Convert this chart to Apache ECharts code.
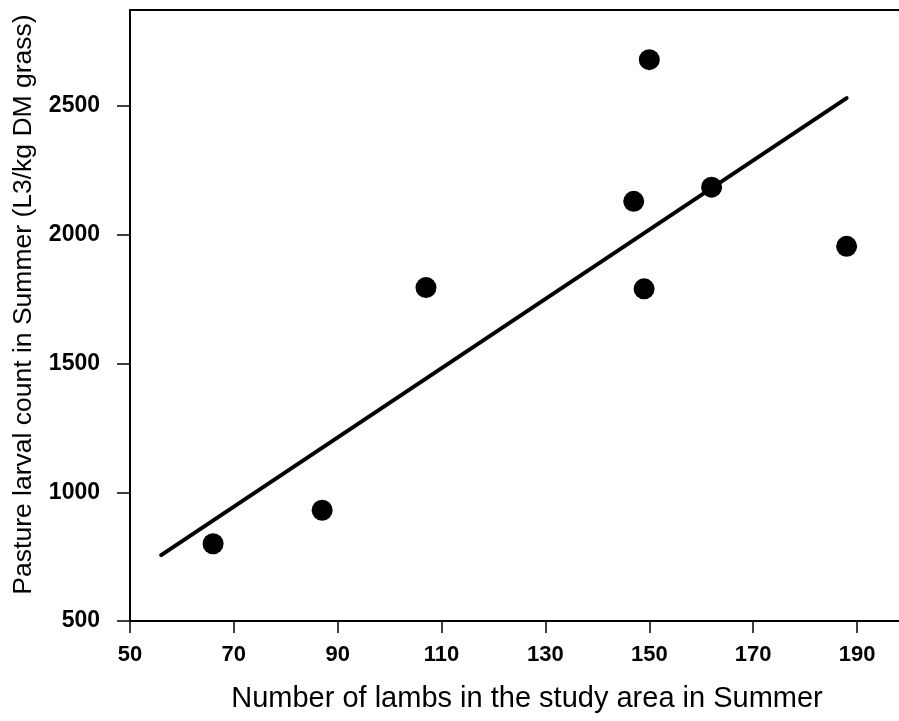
<!DOCTYPE html>
<html>
<head>
<meta charset="utf-8">
<title>Lambs vs pasture larval count</title>
<script src="https://cdn.jsdelivr.net/npm/echarts@6/dist/echarts.min.js"></script>
<style>
  html, body { margin: 0; padding: 0; background: #fff; }
  #chart { width: 899px; height: 721px; }
</style>
</head>
<body>
<div id="chart"></div>
<script>
// Observed farms: number of lambs vs larval count on pasture
const lambs = [66, 87, 107, 147, 149, 150, 162, 188];
const larvae = [800, 930, 1795, 2130, 1790, 2680, 2185, 1955];

// Fitted regression line end points
const fitX = [56, 188];
const fitY = [756, 2531];

// Axis tick values
const xTicks = [50, 70, 90, 110, 130, 150, 170, 190];
const yTicks = [500, 1000, 1500, 2000, 2500];

const FONT = '"Liberation Sans", Arial, sans-serif';
const plain = v => String(v);

const chart = echarts.init(document.getElementById('chart'), null, { renderer: 'canvas' });

chart.setOption({
  animation: false,
  backgroundColor: '#ffffff',
  // the plot frame runs past the right edge of the canvas
  grid: { left: 130, top: 10, right: -25, bottom: 100, show: false, outerBoundsMode: 'none', containLabel: false },
  xAxis: [
    {
      type: 'value',
      position: 'bottom',
      min: 50,
      max: 202.9,
      interval: 20,
      name: 'Number of lambs in the study area in Summer',
      nameLocation: 'middle',
      nameGap: 63,
      nameTextStyle: { fontFamily: FONT, fontSize: 29, color: '#000' },
      axisLine: { show: true, onZero: false, lineStyle: { color: '#000', width: 2 } },
      axisTick: { show: true, length: 12, customValues: xTicks, lineStyle: { color: '#000', width: 1.5 } },
      axisLabel: { customValues: xTicks, formatter: plain, margin: 23, fontFamily: FONT, fontSize: 22, fontWeight: 'bold', color: '#000' },
      splitLine: { show: false }
    },
    {
      // frame line along the top of the plot
      type: 'value',
      position: 'top',
      min: 50,
      max: 202.9,
      axisLine: { show: true, onZero: false, lineStyle: { color: '#000', width: 2 } },
      axisTick: { show: false },
      axisLabel: { show: false },
      splitLine: { show: false }
    }
  ],
  yAxis: {
    type: 'value',
    min: 500,
    max: 2873,
    interval: 500,
    name: 'Pasture larval count in Summer (L3/kg DM grass)',
    nameLocation: 'middle',
    nameGap: 93,
    nameTextStyle: { fontFamily: FONT, fontSize: 26.5, color: '#000', padding: [0, 0, 0, 22] },
    axisLine: { show: true, onZero: false, lineStyle: { color: '#000', width: 2 } },
    axisTick: { show: true, length: 13, customValues: yTicks, lineStyle: { color: '#000', width: 1.5 } },
    axisLabel: { customValues: yTicks, formatter: plain, margin: 30, fontFamily: FONT, fontSize: 23, fontWeight: 'bold', color: '#000' },
    splitLine: { show: false }
  },
  series: [
    {
      type: 'line',
      data: fitX.map((x, i) => [x, fitY[i]]),
      showSymbol: false,
      symbol: 'none',
      lineStyle: { color: '#000', width: 4, cap: 'round' },
      z: 2
    },
    {
      type: 'scatter',
      data: lambs.map((x, i) => [x, larvae[i]]),
      symbol: 'circle',
      symbolSize: 21,
      itemStyle: { color: '#000', opacity: 1 },
      z: 3
    }
  ]
});
</script>
</body>
</html>
